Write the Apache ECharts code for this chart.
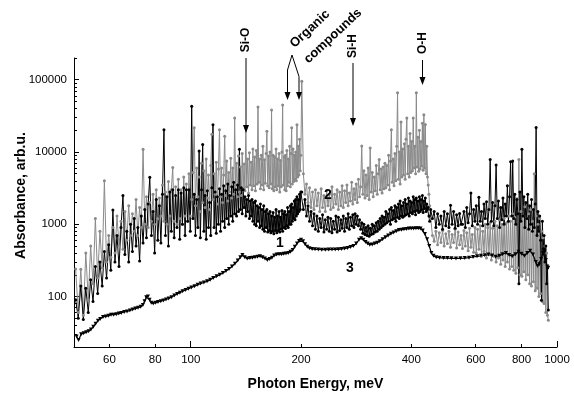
<!DOCTYPE html>
<html><head><meta charset="utf-8">
<script src="https://cdn.jsdelivr.net/npm/echarts@6/dist/echarts.min.js"></script>
<style>html,body{margin:0;padding:0;background:#fff}#c{width:574px;height:396px}</style>
</head><body><div id="c"></div>
<script>
// Photon energy grid (meV) shared by spectra 1 and 2
const energy = [
48.5,49.3,50.1,50.9,51.7,52.5,53.3,54.1,54.9,55.7,56.5,57.3,58.1,58.9,59.7,60.5,61.3,62.1,62.9,63.7,64.5,65.3,66.1,66.9,67.7,68.5,69.3,70.1,70.9,71.7,72.5,73.3,74.1,74.9,75.7,76.5,77.3,78.1,78.9,79.7,80.5,81.3,82.1,82.9,83.7,84.5,85.3,86.1,86.9,87.7,88.5,89.3,90.1,90.9,91.7,92.5,93.3,94.1,94.9,95.7,96.5,97.3,98.1,98.9,99.7,
100.6,101.4,102.2,103.0,103.8,104.6,105.4,106.2,107.0,107.8,
108.6,109.4,110.2,111.0,111.8,112.6,113.4,114.2,115.0,115.8,
116.6,117.4,118.2,119.0,119.8,120.6,121.4,122.2,123.0,123.8,
124.6,125.4,126.2,127.0,127.8,128.6,129.4,130.2,131.0,131.8,
132.6,133.4,134.2,135.0,135.8,136.6,137.4,138.2,139.0,139.8,
140.6,141.4,142.2,143.0,143.8,144.6,145.4,146.2,147.0,147.8,
148.6,149.4,150.2,151.0,151.8,152.6,153.4,154.2,155.0,155.8,
156.6,157.4,158.2,159.0,159.8,160.6,161.4,162.2,163.0,163.8,
164.6,165.4,166.2,167.0,167.8,168.6,169.4,170.2,171.0,171.8,
172.6,173.4,174.2,175.0,175.8,176.6,177.4,178.2,179.0,179.8,
180.6,181.4,182.2,183.0,183.8,184.6,185.4,186.2,187.0,187.8,
188.6,189.4,190.2,191.0,191.8,192.6,193.4,194.2,195.0,195.8,
196.6,197.4,198.2,199.0,199.8,
201,203,205,207,209,211,213,215,217,219,
221,223,225,227,229,231,233,235,237,239,
241,243,245,247,249,251,253,255,257,259,
261,263,265,267,269,271,273,275,277,279,
281,283,285,287,289,291,293,295,297,299,
301,303,305,307,309,311,313,315,317,319,
321,323,325,327,329,331,333,335,337,339,
341,343,345,347,349,351,353,355,357,359,
361,363,365,367,369,371,373,375,377,379,
381,383,385,387,389,391,393,395,397,399,
401,403,405,407,409,411,413,415,417,419,
421,423,425,427,429,431,433,435,437,439,
441,443,445,447,449,
452,457,462,467,472,477,482,487,492,497,
502,507,512,517,522,527,532,537,542,547,
552,557,562,567,572,577,582,587,592,597,
602,607,612,617,622,627,632,637,642,647,
652,657,662,667,672,677,682,687,692,697,
702,707,712,717,722,727,732,737,742,747,
752,757,762,767,772,777,782,787,792,797,
802,807,812,817,822,827,832,837,842,847,
852,857,862,867,872,877,882,887,892,897,
902,907,912,917,922,927,932,937,942,947
];
// Spectrum 1 (black)
const absorbance1 = [
90,50,140,48,130,60,170,85,260,110,300,140,420,180,520,230,1570,300,700,260,900,2500,380,800,300,1000,420,1200,500,900,310,1300,550,1600,650,1900,4470,700,1500,400,2200,600,1800,550,2600,20400,700,2400,500,2800,800,3000,650,2500,900,3000,620,2700,1000,3200,700,3000,1100,3000,800,
43000,1200,2600,700,2200,900,10300,650,3000,12700,
800,2500,620,2900,900,2000,700,3200,23900,900,
2800,750,2400,1000,3100,800,2600,1100,3400,900,
2900,1200,3600,1000,2500,1300,3300,1100,3800,1400,
3000,1300,3500,1500,10900,1600,3200,1400,3000,1700,
2400,1300,2200,1500,2500,1200,2100,1300,2200,1100,
2000,1000,2100,950,1800,1100,1700,900,1900,950,
1600,850,1800,800,1500,900,1600,780,1400,820,
1500,760,1300,800,1450,740,1250,820,1600,760,
1300,820,1500,780,1250,860,1550,800,1400,900,
1500,870,1350,950,1700,900,1500,1000,1800,1000,
1900,1100,1700,1200,2100,1150,2200,1300,2400,1400,
2200,1500,2600,1600,2800,
2800,1600,2200,1300,1800,1100,1500,950,1400,850,
1300,800,1200,900,1350,780,1150,850,1250,800,
1200,760,1100,850,1300,780,1250,820,1150,880,
1300,800,1200,900,1400,850,1250,950,1350,900,
1400,1000,1300,950,1150,850,1050,750,1000,720,
900,700,950,680,880,720,1000,740,950,780,
1050,800,1100,850,1200,900,1300,950,1250,1000,
1500,1050,1400,1100,1600,1000,1700,1150,1550,1200,
1800,1100,1700,1250,1900,1200,2100,1300,1800,1250,
2000,1300,2200,1350,1900,1400,2300,1300,2100,1450,
2000,1400,2400,1500,2200,1350,2300,1550,2100,1450,
2400,1500,2200,1600,2500,1450,2100,1650,2300,1500,
1900,1600,1700,1300,1100,
1600,1200,1500,900,1400,1000,1300,850,1500,950,
1400,900,1830,1000,1500,880,1350,950,1410,1000,
1000,1500,900,1700,1050,1400,2700,950,1600,1100,
1800,1000,2370,1100,1500,950,1900,1200,2050,1000,
1600,7900,1100,2000,950,1800,6600,1200,2100,900,
1700,1150,2300,1000,1900,1300,3400,1100,2400,7300,
1300,7500,1200,2600,1000,2200,1400,150,2800,1100,
10900,1300,2400,900,2000,1200,2600,850,1800,1000,
2200,800,1600,900,1900,21900,700,1500,800,1300,
600,89,1100,450,700,300,500,150,250,65
];
// Spectrum 2 (grey)
const absorbance2 = [
240,60,238,55,400,90,500,150,1200,180,800,250,4000,300,700,350,900,400,1300,500,1100,450,1500,600,1800,700,1400,800,2200,700,1700,900,10900,1000,2400,900,2000,1100,2600,1000,3000,1200,2300,1300,3500,1100,2800,1000,3900,1300,3000,6100,1100,3300,1000,4200,1200,3000,1000,4500,1300,3600,1100,5000,1300,
2200,5200,21600,1800,6000,2400,4500,1500,7000,2000,
5500,1700,8000,2300,4800,1600,6500,17600,2200,5000,
2600,7200,1900,5800,20400,2400,6000,2000,4800,16500,
2500,7500,2100,5200,2800,8200,2300,6000,2600,29500,
3000,7000,2400,8800,2800,6200,2500,9500,3100,6800,
2900,21600,3300,8000,2700,9800,3500,7200,3000,11000,
3400,8500,2900,10500,3600,42000,3800,8000,3100,9000,
3500,12000,3000,7800,3700,9500,19300,3400,8800,3200,
10000,3600,38200,3100,9000,2900,8500,3300,11000,3000,
8000,3400,9500,2800,7600,3300,10000,44700,3500,8500,
3000,9000,2900,10500,3400,8000,3800,12000,3300,9500,
21600,3600,11000,3900,9000,4200,10000,4000,23900,4500,
12000,4800,15000,5500,9000,
95000,5000,2600,3600,2000,3200,1700,2800,1600,3000,
1800,2700,1500,3100,1700,2500,1500,2900,1800,2600,
1600,3300,1700,2600,1900,3000,1600,2800,1800,3400,
1700,2900,2000,3500,1800,2700,2100,3800,1900,3100,
2200,3600,2000,4200,2400,3300,12100,2600,5500,2300,
4800,2500,6000,2200,11400,2800,5200,2400,4500,2900,
6500,2600,5000,7900,3000,5800,2700,6200,3100,7000,
3200,6500,3500,9000,3000,7500,20400,3800,8000,3400,
9500,4000,12000,66000,4200,10000,3600,26000,4500,11000,
4800,13000,4200,15000,29500,5000,12000,4500,18000,5200,
14000,5500,29500,6000,12000,5000,66000,6200,16000,5400,
20000,5800,14000,6400,25000,5600,32700,6000,24000,5000,
12000,4500,3500,2600,1800,
1200,700,580,800,520,760,560,820,500,740,
540,800,480,720,560,850,470,780,520,700,
460,820,500,760,430,880,480,720,410,900,
400,850,450,950,360,800,420,1000,340,900,
380,1050,320,880,360,1100,300,950,340,1150,
280,1000,320,1200,260,1050,300,1300,240,1100,
260,1400,230,1250,210,2260,250,7900,200,1500,
190,1300,220,1740,170,1200,200,1400,150,1600,
140,1100,160,5000,120,1300,130,1000,100,1200,
110,800,85,650,80,500,60,400,55,47
];
// Spectrum 3 (black, triangles)
const energy3 = [48.8,49.4,50.2,51.0,51.8,52.6,53.4,54.2,55.0,55.8,56.6,57.6,58.6,59.6,60.6,61.6,62.6,63.6,64.6,65.8,67.0,68.2,69.4,70.6,71.8,73.0,74.0,74.8,75.6,76.4,77.2,78.0,79.0,80.2,81.4,82.8,84.2,85.6,87.0,88.6,90.2,91.8,93.4,95.0,96.8,98.6,100.4,102.4,104.4,106.4,108.6,110.8,113.0,115.2,117.6,120.0,122.4,124.8,127.2,129.6,132.0,134.4,136.6,138.4,140.4,142.6,145.0,147.4,149.8,152.2,154.6,157.0,159.4,161.8,164.2,166.6,169.0,171.6,174.2,176.8,179.4,182.0,184.6,187.2,189.8,192.4,195.0,197.6,200.0,202.6,205.2,208.0,211.0,214.5,218.5,223,228,233,238,243,248,253,258,263,268,273,278,283,288,292,296,300,304,308,313,318,323,328,334,340,346,352,358,364,370,376,382,388,394,400,406,412,418,424,430,436,442,448,454,460,468,478,490,502,515,530,545,560,575,590,605,620,635,650,665,680,695,710,725,740,755,770,785,800,815,830,845,860,875,885,895,905,915,925,932,940,946];
const absorbance3 = [28,25,30,31,32,33,35,38,42,46,49,52,53,54,56,56,57,58,59,61,62,64,66,68,70,72,76,86,98,100,90,82,80,82,84,86,88,91,94,98,103,108,113,118,123,128,133,139,145,151,156,162,170,180,190,200,212,225,240,260,285,315,350,375,350,335,340,345,350,355,362,350,335,320,330,345,370,380,385,385,390,395,400,415,440,490,540,585,610,580,530,490,465,455,450,447,445,445,446,447,448,450,455,460,470,485,500,540,610,640,610,570,540,520,525,540,555,580,620,660,700,740,770,800,830,840,850,860,870,875,875,878,880,870,820,730,620,500,400,365,350,345,340,340,338,337,338,340,345,352,360,365,372,380,370,355,365,385,400,375,360,385,415,390,365,400,430,380,300,265,280,330,400,420,320,260,250];

const xTickLabels = [60, 80, 100, 200, 400, 600, 800, 1000];
const xMajorTicks = [100, 1000];
const xMinorTicks = [60, 80, 200, 400, 600, 800];
const yTickLabels = [100, 1000, 10000, 100000];
const yMinorTicks = [20,30,40,50,60,70,80,90,200,300,400,500,600,700,800,900,2000,3000,4000,5000,6000,7000,8000,9000,20000,30000,40000,50000,60000,70000,80000,90000,200000];

const FONT = "'Liberation Sans', Arial, Helvetica, sans-serif";
const pairs = (xs, ys) => xs.map((x, i) => [x, ys[i]]);
const plain = v => String(v);
const chart = echarts.init(document.getElementById('c'));

function vtext(x, y, t, size, rot) {
  return {type:'text', x:x, y:y, rotation:rot, z:100,
    style:{text:t, fontFamily:FONT, fontWeight:'bold', fontSize:size, fill:'#000', align:'center', verticalAlign:'middle'}};
}
function arrow(x, y1, y2) {
  return [
    {type:'line', z:100, shape:{x1:x, y1:y1, x2:x, y2:y2-6}, style:{stroke:'#000', lineWidth:1}},
    {type:'polygon', z:100, shape:{points:[[x-3,y2-8],[x+3,y2-8],[x,y2]]}, style:{fill:'#000'}}
  ];
}

const graphics = [
  vtext(21, 195.5, 'Absorbance, arb.u.', 14, Math.PI/2),
  vtext(246, 40, 'Si-O', 12, Math.PI/2),
  ...arrow(246, 58, 133),
  vtext(310, 29, 'Organic', 13, 0.75),
  vtext(333, 36, 'compounds', 13, 0.75),
  {type:'polyline', z:100, shape:{points:[[287.5,93],[287.5,70],[292,55],[299,76.5],[299,93]]}, style:{stroke:'#000', lineWidth:1, fill:null}},
  {type:'polygon', z:100, shape:{points:[[284.5,92],[290.5,92],[287.5,100]]}, style:{fill:'#000'}},
  {type:'polygon', z:100, shape:{points:[[296,92],[302,92],[299,100]]}, style:{fill:'#000'}},
  vtext(353, 46, 'Si-H', 12, Math.PI/2),
  ...arrow(353, 63, 126),
  vtext(422.5, 43, 'O-H', 12, Math.PI/2),
  ...arrow(422.5, 60, 85),
  vtext(280, 243, '1', 14, 0),
  vtext(328, 195, '2', 14, 0),
  vtext(350, 268, '3', 14, 0)
];

chart.setOption({
  animation: false,
  backgroundColor: '#fff',
  grid: {left: 74, right: 17, top: 58, bottom: 45.5, containLabel: false},
  xAxis: [{
    type: 'log', logBase: 10, min: 48, max: 1000,
    axisLine: {show: true, lineStyle: {color: '#000', width: 1}},
    axisTick: {show: true, inside: true, length: 3, customValues: xMinorTicks, lineStyle: {color: '#000'}},
    axisLabel: {customValues: xTickLabels, formatter: plain, color: '#000', fontSize: 11.5, fontFamily: FONT, margin: 7},
    splitLine: {show: false}, minorTick: {show: false},
    name: 'Photon Energy, meV', nameLocation: 'middle', nameGap: 30,
    nameTextStyle: {fontWeight: 'bold', fontSize: 14, color: '#000', fontFamily: FONT}
  }, {
    type: 'log', logBase: 10, min: 48, max: 1000, position: 'bottom', offset: 0,
    axisLine: {show: false},
    axisTick: {show: true, inside: true, length: 6, customValues: xMajorTicks, lineStyle: {color: '#000'}},
    axisLabel: {show: false}, splitLine: {show: false}
  }],
  yAxis: [{
    type: 'log', logBase: 10, min: 20, max: 200000,
    axisLine: {show: true, lineStyle: {color: '#000', width: 1}},
    axisTick: {show: true, inside: true, length: 5, customValues: yTickLabels, lineStyle: {color: '#000'}},
    axisLabel: {customValues: yTickLabels, formatter: plain, color: '#000', fontSize: 11.5, fontFamily: FONT, margin: 7},
    splitLine: {show: false}
  }, {
    type: 'log', logBase: 10, min: 20, max: 200000, position: 'left', offset: 0,
    axisLine: {show: false},
    axisTick: {show: true, inside: true, length: 3, customValues: yMinorTicks, lineStyle: {color: '#000'}},
    axisLabel: {show: false}, splitLine: {show: false}
  }],
  series: [{
    name: '2', type: 'line', data: pairs(energy, absorbance2),
    showAllSymbol: true, symbol: 'circle', symbolSize: 3,
    lineStyle: {color: '#8a8a8a', width: 1}, itemStyle: {color: '#8a8a8a'}
  }, {
    name: '1', type: 'line', data: pairs(energy, absorbance1),
    showAllSymbol: true, symbol: 'circle', symbolSize: 3,
    lineStyle: {color: '#000', width: 1}, itemStyle: {color: '#000'}
  }, {
    name: '3', type: 'line', data: pairs(energy3, absorbance3),
    showAllSymbol: true, symbol: 'triangle', symbolRotate: 180, symbolSize: 4,
    lineStyle: {color: '#000', width: 1.2}, itemStyle: {color: '#000'}
  }],
  graphic: graphics
});
</script></body></html>
